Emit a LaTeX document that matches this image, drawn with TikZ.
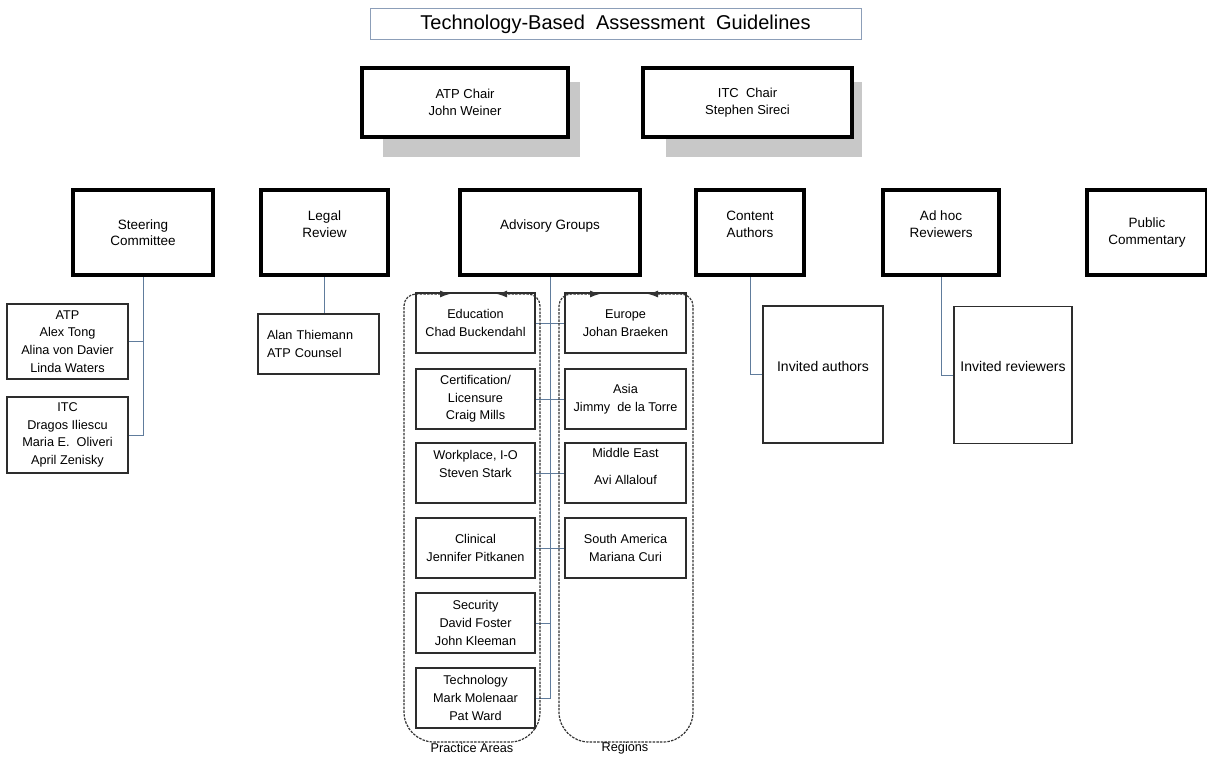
\documentclass[tikz,border=0pt]{standalone}
\usepackage{fontspec}
\setmainfont{Liberation Sans}
\usetikzlibrary{arrows.meta,backgrounds}
\definecolor{linkblue}{RGB}{96,124,156}
\definecolor{titleframe}{RGB}{140,158,184}
\definecolor{shadowgray}{RGB}{200,200,200}
\definecolor{inkgray}{RGB}{45,45,45}

\begin{document}
\begin{tikzpicture}[x=1pt,y=-1pt,>={Latex[length=10pt,width=7pt]},
  chairbox/.style={draw,line width=4pt,fill=white,align=center,
    minimum width=206pt,minimum height=69pt,font=\fontsize{13}{17}\selectfont},
  headbox/.style={draw,line width=4pt,fill=white,align=center,
    minimum height=85pt,font=\fontsize{13.5}{16.5}\selectfont},
  memberbox/.style={draw=inkgray,line width=1.4pt,align=center,
    minimum height=60pt,inner sep=2pt,font=\fontsize{12.7}{17.7}\selectfont},
  invitedbox/.style={memberbox,minimum height=137pt,font=\fontsize{14}{17}\selectfont},
  link/.style={draw=linkblue,line width=1pt},
  groupline/.style={draw=black!80,line width=1.2pt,dash pattern=on 2.5pt off 1.2pt,
    rounded corners=12pt},
  grouplabel/.style={font=\fontsize{12.7}{15}\selectfont,inner sep=0pt}]
  \useasboundingbox (0,0) rectangle (1207,757);

  % Title
  \node[draw=titleframe,line width=1pt,minimum width=491pt,minimum height=31pt,
    font=\fontsize{20}{24}\selectfont] (title) at (615.5,24.5)
    {Technology-Based\ \ Assessment\ \ Guidelines};

  % Chairs
  \node[chairbox] (atpchair) at (465,102.5) {ATP Chair\\John Weiner};
  \node[chairbox,minimum width=209pt] (itcchair) at (747.5,102.5) {ITC\ \ Chair\\Stephen Sireci};
  \begin{scope}[on background layer]
    \fill[shadowgray] (383,82) rectangle (580,157);
    \fill[shadowgray] (666,82) rectangle (862,157);
  \end{scope}

  % Second row
  \node[headbox,minimum width=140pt] (steering) at (143,232.5) {Steering\\Committee};
  \node[headbox,minimum width=127pt] (legal) at (324.5,232.5) {Legal\\Review\\\mbox{}};
  \node[headbox,minimum width=180pt] (advisory) at (550,232.5) {Advisory Groups\\\mbox{}};
  \node[headbox,minimum width=108pt] (content) at (750,232.5) {Content\\Authors\\\mbox{}};
  \node[headbox,minimum width=116pt] (adhoc) at (941,232.5) {Ad hoc\\Reviewers\\\mbox{}};
  \node[headbox,minimum width=120pt] (public) at (1147,232.5) {Public\\Commentary};

  % Steering committee members
  \node[memberbox,minimum width=121pt,minimum height=75pt] (stcatp) at (67.5,341.5)
    {ATP\\Alex Tong\\Alina von Davier\\Linda Waters};
  \node[memberbox,minimum width=121pt,minimum height=76pt] (stcitc) at (67.5,435)
    {ITC\\Dragos Iliescu\\Maria E.\ \ Oliveri\\April Zenisky};
  \draw[link] (steering.south) |- (stcitc.east);
  \draw[link] (stcatp.east) -- (stcatp.east -| steering.south);

  % Legal review
  \node[memberbox,text width=103pt,align=left,inner xsep=9pt] (counsel) at (318.5,344)
    {Alan Thiemann\\ATP Counsel};
  \draw[link] (legal.south) -- (legal.south |- counsel.north);

  % Practice areas
  \node[memberbox,minimum width=119pt] (education) at (475.5,323) {Education\\Chad Buckendahl};
  \node[memberbox,minimum width=119pt] (certification) at (475.5,399) {Certification/\\Licensure\\Craig Mills};
  \node[memberbox,minimum width=119pt] (workplace) at (475.5,473) {Workplace, I-O\\Steven Stark\\\mbox{}};
  \node[memberbox,minimum width=119pt] (clinical) at (475.5,548) {Clinical\\Jennifer Pitkanen};
  \node[memberbox,minimum width=119pt] (security) at (475.5,623) {Security\\David Foster\\John Kleeman};
  \node[memberbox,minimum width=119pt] (technology) at (475.5,698) {Technology\\Mark Molenaar\\Pat Ward};

  % Regions
  \node[memberbox,minimum width=121pt] (europe) at (625.5,323) {Europe\\Johan Braeken};
  \node[memberbox,minimum width=121pt] (asia) at (625.5,399) {Asia\\Jimmy\ \ de la Torre};
  \node[memberbox,minimum width=121pt] (mideast) at (625.5,473) {Middle East\\[9pt]Avi Allalouf\\[-4pt]\mbox{}};
  \node[memberbox,minimum width=121pt] (samerica) at (625.5,548) {South America\\Mariana Curi};

  % Advisory links
  \draw[link] (advisory.south) |- (technology.east);
  \draw[link] (education.east) -- (europe.west);
  \draw[link] (certification.east) -- (asia.west);
  \draw[link] (workplace.east) -- (mideast.west);
  \draw[link] (clinical.east) -- (samerica.west);
  \draw[link] (security.east) -- (security.east -| advisory.south);

  % Group outlines
  \draw[groupline,<->] (450,294) -- (404,294) [rounded corners=30pt] -- (404,742)
    -- (540,742) [rounded corners=12pt] -- (540,294) -- (497,294);
  \draw[groupline,<->] (600,294) -- (559,294) [rounded corners=30pt] -- (559,742)
    -- (693,742) [rounded corners=12pt] -- (693,294) -- (648,294);
  \node[grouplabel] (practicelbl) at (472,748) {Practice Areas};
  \node[grouplabel] (regionslbl) at (625,748) {Regions};

  % Invited contributors
  \node[invitedbox,minimum width=120pt] (invauthors) at (823,374.5) {Invited authors\\\mbox{}};
  \node[invitedbox,minimum width=118pt,inner xsep=1pt] (invreviewers) at (1013,375) {Invited reviewers\\\mbox{}};
  \draw[link] (content.south) |- (invauthors.west);
  \draw[link] (adhoc.south) |- (invreviewers.west);
\end{tikzpicture}
\end{document}
